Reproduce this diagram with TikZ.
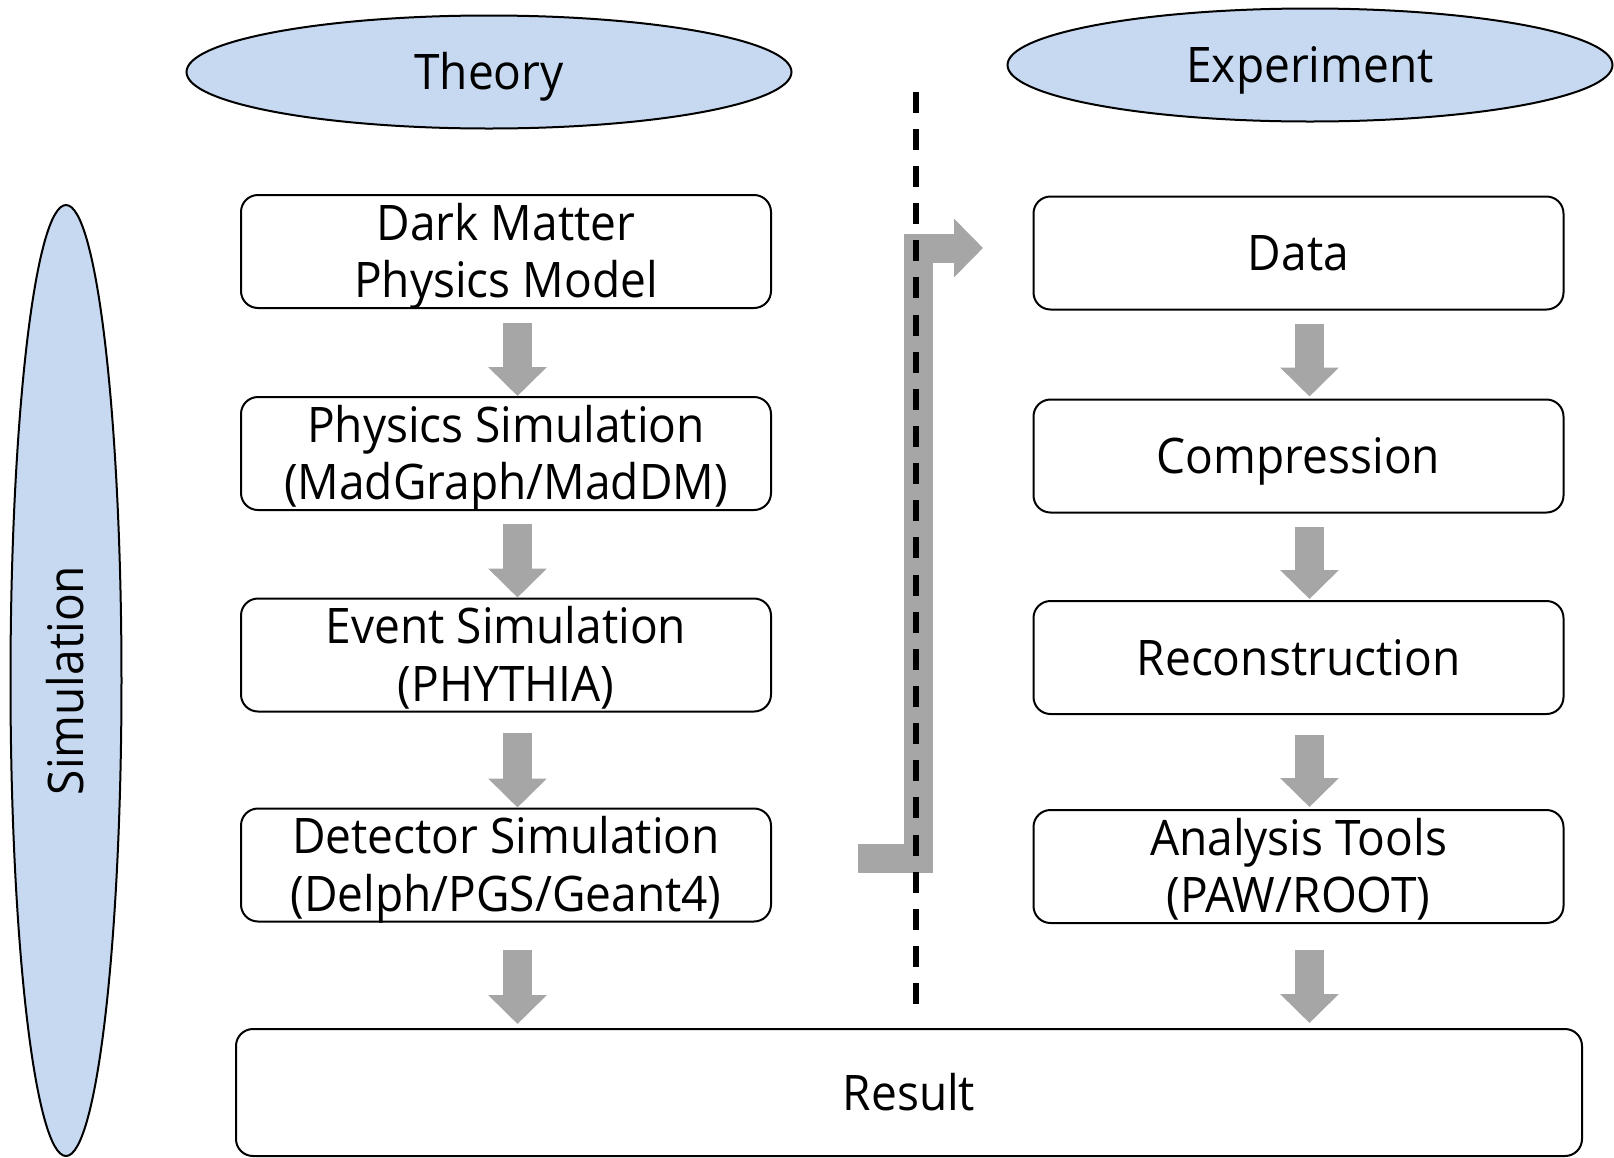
\documentclass[tikz,border=0pt]{standalone}
\usepackage{fontspec}
\setmainfont{Open Sans}[FakeStretch=0.94]
\usetikzlibrary{shapes.geometric, arrows.meta}

\definecolor{ellfill}{RGB}{198,217,241}
\definecolor{arrgray}{RGB}{166,166,166}

% two centred lines; the box's baseline is that of the second line
\newcommand\twolines[2]{\vbox{\hbox to 0pt{\hss #1\hss}\hbox to 0pt{\hss #2\hss}}}

\tikzset{
  blob/.style={ellipse, draw, line width=2pt, fill=ellfill, inner sep=0pt,
               text height=35pt, text depth=0pt},
  stage/.style={rectangle, draw, line width=2pt, rounded corners=17pt,
                minimum width=530pt, minimum height=113pt, inner sep=0pt,
                text height=35pt, text depth=0pt},
  twoline/.style={text height=92.6pt},
  garrow/.style={draw=arrgray, line width=29pt,
                 -{Triangle[width=57pt,length=29pt]}},
  divider/.style={line width=6pt, dash pattern=on 21pt off 16.14pt},
}

\begin{document}
\begin{tikzpicture}[x=1pt, y=-1pt, font=\fontsize{49pt}{57.6pt}\selectfont]
\useasboundingbox (0,0) rectangle (1614,1157);

% headings
\node[blob, minimum width=605pt, minimum height=113pt] (theory) at (489,72) {Theory};
\node[blob, minimum width=605pt, minimum height=113pt] (expt) at (1310,65) {Experiment};
\node[blob, minimum width=951pt, minimum height=111pt, rotate=90] (sim) at (66,680.5) {Simulation};

% theory chain
\node[stage, twoline] (b1) at (506,251.5) {\twolines{Dark Matter}{Physics Model}};
\node[stage, twoline] (b2) at (506,453.5) {\twolines{Physics Simulation}{(MadGraph/MadDM)}};
\node[stage, twoline] (b3) at (506,655)   {\twolines{Event Simulation}{(PHYTHIA)}};
\node[stage, twoline] (b4) at (506,865)   {\twolines{Detector Simulation}{(Delph/PGS/Geant4)}};

% experiment chain
\node[stage] (r1) at (1298.5,253)   {Data};
\node[stage] (r2) at (1298.5,456)   {Compression};
\node[stage] (r3) at (1298.5,657.5) {Reconstruction};
\node[stage, twoline] (r4) at (1298.5,866.5) {\twolines{Analysis Tools}{(PAW/ROOT)}};

% common result
\node[stage, minimum width=1346pt, minimum height=127pt] (res) at (909,1092.5) {Result};

% downward arrows, theory side
\draw[garrow] ([xshift=11.5pt,yshift=-14pt]b1.south) -- ([xshift=11.5pt]b2.north);
\draw[garrow] ([xshift=11.5pt,yshift=-13pt]b2.south) -- ([xshift=11.5pt]b3.north);
\draw[garrow] ([xshift=11.5pt,yshift=-20.5pt]b3.south) -- ([xshift=11.5pt]b4.north);
\draw[garrow, shorten >=4pt] ([xshift=11.5pt,yshift=-27.5pt]b4.south) -- ([xshift=11.5pt]b4.south |- res.north);

% downward arrows, experiment side
\draw[garrow, shorten >=2pt] ([xshift=11pt,yshift=-13.5pt]r1.south) -- ([xshift=11pt]r2.north);
\draw[garrow, shorten >=1pt] ([xshift=11pt,yshift=-13.5pt]r2.south) -- ([xshift=11pt]r3.north);
\draw[garrow, shorten >=2pt] ([xshift=11pt,yshift=-20pt]r3.south) -- ([xshift=11pt]r4.north);
\draw[garrow, shorten >=5pt] ([xshift=11pt,yshift=-26pt]r4.south) -- ([xshift=11pt]r4.south |- res.north);

% bent arrow crossing from the simulation side to the data
\coordinate (bend) at (918.5,500);
\draw[garrow, line join=miter]
  ([xshift=86pt,yshift=7pt]b4.east) -- ([yshift=7pt]b4.east -| bend)
  |- ([xshift=-49.5pt,yshift=5pt]r1.west);

% dashed divider between theory and experiment
\coordinate (dtop) at (915.5,91.7);
\coordinate (dbot) at (915.5,1004);
\draw[divider] (dtop) -- (dbot);
\end{tikzpicture}
\end{document}
